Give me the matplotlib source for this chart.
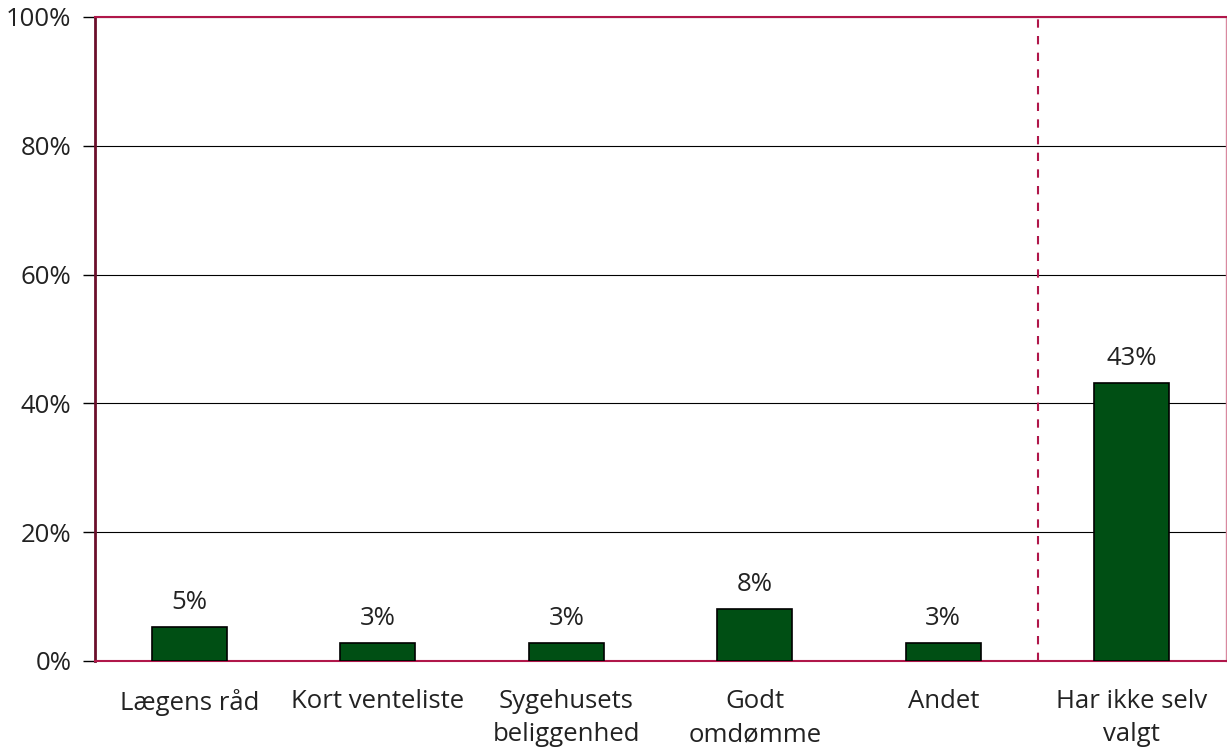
import matplotlib
matplotlib.use("Agg")
import matplotlib.pyplot as plt
from matplotlib.ticker import FuncFormatter

categories = ["Lægens råd", "Kort venteliste", "Sygehusets\nbeliggenhed", "Godt\nomdømme", "Andet", "Har ikke selv\nvalgt"]
values = [5.3, 2.8, 2.8, 8.1, 2.8, 43.2]
labels = ["5%", "3%", "3%", "8%", "3%", "43%"]
yticks = [0, 20, 40, 60, 80, 100]

plt.rcParams['font.family'] = ['Open Sans', 'DejaVu Sans']

fig = plt.figure(figsize=(12.27, 7.53), dpi=100)
ax = fig.add_axes([95/1227, 1 - 661/753, (1226-95)/1227, (661-17)/753])

x = list(range(len(categories)))
ax.bar(x, values, width=0.4, color="#004f14", edgecolor="black", linewidth=1.2, zorder=3)
for xi, v, lab in zip(x, values, labels):
    ax.text(xi, v + 1.8, lab, ha="center", va="bottom", fontsize=18.5, color="#222222")

ax.set_xlim(-0.5, 5.5)
ax.set_ylim(0, 100)
ax.set_yticks(yticks)
ax.yaxis.set_major_formatter(FuncFormatter(lambda v, p: f"{int(v)}%"))
ax.set_xticks(x)
ax.set_xticklabels(categories, fontsize=18.5, color="#222222", linespacing=1.45)
ax.tick_params(axis="x", length=0, pad=20)
ax.tick_params(axis="y", length=9, width=1, color="black", labelsize=18.5, labelcolor="#222222", pad=8)
ax.grid(axis="y", color="black", linewidth=0.8, zorder=0)
ax.axvline(4.5, color="#b0174a", linestyle=(0, (4, 4)), linewidth=1.5, zorder=2)

for s in ["top", "right", "bottom"]:
    ax.spines[s].set_color("#b0174a")
    ax.spines[s].set_linewidth(1.5)
ax.spines["right"].set_color("#d9899f")
ax.spines["right"].set_linewidth(1)
ax.spines["left"].set_color("#6b0f2b")
ax.spines["left"].set_linewidth(2)

fig.savefig("out.png", dpi=100)
